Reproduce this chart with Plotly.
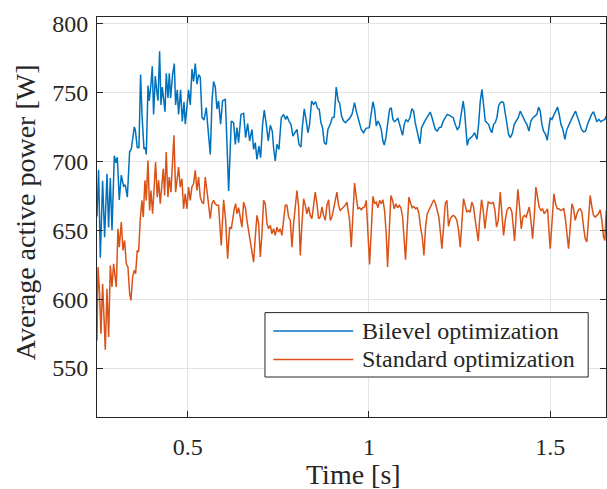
import plotly.graph_objects as go

# ---------------- data ----------------
t_bilevel = [
    0.2500, 0.2544, 0.2591, 0.2655, 0.2710, 0.2776, 0.2820, 0.2867, 0.2914, 0.2977,
    0.3024, 0.3060, 0.3115, 0.3170, 0.3234, 0.3280, 0.3336, 0.3400, 0.3446, 0.3529,
    0.3556, 0.3611, 0.3658, 0.3702, 0.3741, 0.3796, 0.3832, 0.3860, 0.3907, 0.3942,
    0.3989, 0.4025, 0.4061, 0.4108, 0.4144, 0.4182, 0.4227, 0.4265, 0.4301, 0.4337,
    0.4376, 0.4411, 0.4458, 0.4494, 0.4530, 0.4585, 0.4632, 0.4668, 0.4715, 0.4750,
    0.4806, 0.4853, 0.4900, 0.4935, 0.4982, 0.5026, 0.5073, 0.5120, 0.5164, 0.5211,
    0.5258, 0.5302, 0.5349, 0.5396, 0.5451, 0.5515, 0.5561, 0.5625, 0.5672, 0.5716,
    0.5763, 0.5809, 0.5854, 0.5909, 0.5964, 0.6039,
    0.6066, 0.6131, 0.6204, 0.6269, 0.6315, 0.6361, 0.6406, 0.6471, 0.6544, 0.6599,
    0.6655, 0.6710, 0.6774, 0.6820, 0.6866, 0.6912, 0.6967, 0.7013, 0.7068, 0.7114,
    0.7169, 0.7224, 0.7280, 0.7335, 0.7371, 0.7417, 0.7463, 0.7518, 0.7583, 0.7647,
    0.7702, 0.7739, 0.7794, 0.7849, 0.7904, 0.7960, 0.8015, 0.8070, 0.8125, 0.8162,
    0.8217, 0.8272, 0.8318, 0.8364, 0.8419, 0.8474, 0.8529, 0.8584, 0.8630, 0.8676,
    0.8722, 0.8768, 0.8823, 0.8869, 0.8934, 0.8989, 0.9044, 0.9099, 0.9154, 0.9191,
    0.9246, 0.9301, 0.9356, 0.9412, 0.9467,
    0.9532, 0.9605, 0.9651, 0.9697, 0.9734, 0.9789, 0.9853, 0.9918, 1.0010, 1.0065,
    1.0111, 1.0157, 1.0203, 1.0249, 1.0295, 1.0341, 1.0386, 1.0423, 1.0469, 1.0515,
    1.0570, 1.0616, 1.0662, 1.0708, 1.0754, 1.0800, 1.0846, 1.0892, 1.0929, 1.0975,
    1.1021, 1.1076, 1.1131, 1.1186, 1.1232, 1.1278, 1.1324, 1.1370, 1.1407, 1.1452,
    1.1508, 1.1554, 1.1600, 1.1646, 1.1691, 1.1737, 1.1783, 1.1829, 1.1884, 1.1940,
    1.1995, 1.2050, 1.2105, 1.2160, 1.2215, 1.2270, 1.2326, 1.2381, 1.2436, 1.2491,
    1.2546, 1.2601, 1.2638, 1.2675, 1.2712, 1.2757, 1.2803, 1.2859, 1.2914,
    1.2980, 1.3026, 1.3072, 1.3118, 1.3164, 1.3210, 1.3256, 1.3301, 1.3347, 1.3393,
    1.3439, 1.3485, 1.3531, 1.3577, 1.3623, 1.3669, 1.3715, 1.3761, 1.3807, 1.3853,
    1.3899, 1.3954, 1.4009, 1.4064, 1.4119, 1.4175, 1.4220, 1.4266, 1.4312, 1.4358,
    1.4413, 1.4469, 1.4524, 1.4579, 1.4634, 1.4680, 1.4726, 1.4772, 1.4818, 1.4873,
    1.4919, 1.4965, 1.5002, 1.5048, 1.5094, 1.5149, 1.5204, 1.5250, 1.5296, 1.5351,
    1.5406, 1.5461, 1.5516, 1.5571, 1.5627, 1.5700, 1.5755, 1.5810, 1.5865, 1.5921,
    1.5976, 1.6031, 1.6086, 1.6141, 1.6196, 1.6242, 1.6288, 1.6343, 1.6398, 1.6454,
    1.6509, 1.6546,
]
p_bilevel = [
    660.0, 694.0, 630.0, 686.0, 645.0, 691.0, 652.0, 688.0, 650.0, 704.0,
    699.0, 703.0, 672.0, 690.0, 682.0, 683.0, 674.0, 707.0, 709.0, 725.0,
    723.0, 710.0, 710.0, 763.0, 734.0, 709.0, 710.0, 705.0, 755.0, 744.0,
    756.0, 769.0, 734.0, 762.0, 752.0, 744.0, 780.0, 741.0, 754.0, 743.0,
    736.0, 764.0, 746.0, 764.0, 746.0, 763.0, 771.0, 741.0, 752.0, 734.0,
    752.0, 729.0, 743.0, 727.0, 743.0, 752.0, 741.0, 767.0, 758.0, 771.0,
    756.0, 763.0, 761.0, 732.0, 730.0, 739.0, 724.0, 705.0, 744.0, 758.0,
    754.0, 738.0, 744.0, 727.0, 744.0, 745.0,
    726.9, 678.5, 729.3, 728.1, 712.4, 724.5, 713.6, 734.1, 734.9, 717.2,
    727.4, 714.8, 723.2, 708.7, 713.6, 701.5, 711.1, 702.7, 726.9, 737.3,
    726.9, 714.8, 726.2, 722.0, 709.9, 700.3, 712.4, 708.7, 731.7, 734.1,
    730.5, 732.9, 729.3, 726.9, 718.4, 720.8, 723.2, 712.4, 710.4, 724.5,
    738.2, 729.3, 720.8, 726.9, 743.8, 741.4, 743.3, 738.5, 737.8, 728.1,
    724.5, 713.6, 712.4, 723.2, 726.9, 731.7, 732.2, 754.0, 743.8, 742.6,
    732.9, 729.3, 728.1, 729.8, 731.2,
    734.1, 742.6, 736.5, 731.7, 729.3, 723.2, 720.8, 724.0, 724.5, 734.1,
    743.3, 737.8, 725.7, 729.3, 726.9, 723.2, 714.8, 711.9, 717.2, 726.9,
    737.8, 739.0, 730.5, 728.8, 729.8, 731.2, 726.9, 722.0, 718.9, 726.9,
    730.5, 728.8, 731.7, 738.2, 736.5, 728.1, 722.5, 716.0, 712.8, 724.5,
    728.1, 729.8, 731.7, 734.1, 735.8, 732.2, 726.9, 723.2, 722.0, 724.5,
    724.9, 729.3, 731.7, 734.1, 733.6, 732.9, 731.7, 726.9, 723.2, 724.9,
    732.9, 743.8, 736.5, 719.6, 711.6, 716.0, 717.2, 718.4, 720.8,
    716.0, 726.9, 743.8, 752.3, 741.4, 729.3, 728.1, 726.9, 723.2, 720.8,
    726.9, 728.1, 731.7, 740.2, 742.6, 743.3, 742.6, 734.1, 724.5, 719.6,
    717.2, 720.1, 726.9, 729.8, 731.7, 736.5, 734.1, 730.5, 728.8, 726.9,
    722.0, 729.3, 731.7, 732.9, 734.1, 739.4, 736.5, 726.9, 722.0, 719.6,
    715.3, 724.5, 731.7, 730.5, 732.9, 736.5, 739.4, 734.1, 726.9, 723.2,
    716.0, 723.2, 726.9, 729.3, 732.9, 736.5, 731.7, 726.9, 723.2, 721.5,
    722.0, 726.9, 730.5, 734.1, 736.1, 732.9, 728.8, 730.5, 728.8, 729.8,
    730.5, 732.9,
]

t_standard = [
    0.2500, 0.2527, 0.2572, 0.2609, 0.2655, 0.2692, 0.2729, 0.2775, 0.2821, 0.2867,
    0.2913, 0.2958, 0.3004, 0.3032, 0.3078, 0.3115, 0.3170, 0.3216, 0.3262, 0.3308,
    0.3354, 0.3400, 0.3436, 0.3482, 0.3528, 0.3565, 0.3611, 0.3648, 0.3694, 0.3740,
    0.3776, 0.3822, 0.3859, 0.3905, 0.3951, 0.3988, 0.4034, 0.4070, 0.4116, 0.4162,
    0.4199, 0.4245, 0.4291, 0.4328, 0.4365, 0.4410, 0.4456, 0.4493, 0.4539, 0.4576,
    0.4622, 0.4668, 0.4705, 0.4751, 0.4796, 0.4842, 0.4888, 0.4934, 0.4980, 0.5026,
    0.5072, 0.5118, 0.5164, 0.5210, 0.5256, 0.5302, 0.5348, 0.5394, 0.5440, 0.5486,
    0.5532, 0.5578, 0.5624, 0.5670, 0.5715, 0.5761, 0.5807, 0.5853, 0.5899, 0.5927,
    0.5993, 0.6048, 0.6103, 0.6158, 0.6204, 0.6250, 0.6287, 0.6324, 0.6361, 0.6406,
    0.6452, 0.6498, 0.6544, 0.6599, 0.6636, 0.6682, 0.6728, 0.6774, 0.6820, 0.6866,
    0.6912, 0.6958, 0.7004, 0.7050, 0.7096, 0.7142, 0.7188, 0.7234, 0.7280, 0.7325,
    0.7371, 0.7417, 0.7463, 0.7509, 0.7555, 0.7601, 0.7647, 0.7693, 0.7739, 0.7785,
    0.7831, 0.7877, 0.7923, 0.7969, 0.8015, 0.8061, 0.8107, 0.8153, 0.8199, 0.8244,
    0.8290, 0.8336, 0.8382, 0.8428, 0.8474, 0.8520, 0.8566, 0.8612, 0.8658, 0.8704,
    0.8750, 0.8796, 0.8842, 0.8888, 0.8934, 0.8980, 0.9026, 0.9072, 0.9118, 0.9163,
    0.9209, 0.9255, 0.9301, 0.9347, 0.9393,
    0.9467, 0.9513, 0.9550, 0.9605, 0.9651, 0.9697, 0.9743, 0.9789, 0.9835, 0.9881,
    0.9927, 0.9973, 1.0019, 1.0065, 1.0111, 1.0157, 1.0203, 1.0249, 1.0295, 1.0341,
    1.0386, 1.0432, 1.0478, 1.0515, 1.0561, 1.0607, 1.0653, 1.0699, 1.0745, 1.0791,
    1.0837, 1.0883, 1.0929, 1.0975, 1.1011, 1.1057, 1.1103, 1.1149, 1.1195, 1.1241,
    1.1287, 1.1333, 1.1379, 1.1425, 1.1471, 1.1517, 1.1563, 1.1609, 1.1655, 1.1701,
    1.1747, 1.1793, 1.1838, 1.1884, 1.1930, 1.1976, 1.2013, 1.2059, 1.2105, 1.2151,
    1.2197, 1.2243, 1.2289, 1.2335, 1.2381, 1.2427, 1.2473, 1.2519, 1.2565, 1.2610,
    1.2656, 1.2702, 1.2748, 1.2794, 1.2840, 1.2886,
    1.2934, 1.2980, 1.3017, 1.3053, 1.3108, 1.3154, 1.3200, 1.3246, 1.3292, 1.3338,
    1.3384, 1.3430, 1.3476, 1.3522, 1.3568, 1.3623, 1.3669, 1.3715, 1.3761, 1.3807,
    1.3853, 1.3899, 1.3945, 1.3991, 1.4018, 1.4064, 1.4110, 1.4156, 1.4202, 1.4248,
    1.4294, 1.4340, 1.4386, 1.4423, 1.4469, 1.4515, 1.4560, 1.4606, 1.4652, 1.4698,
    1.4744, 1.4790, 1.4836, 1.4882, 1.4928, 1.4965, 1.5002, 1.5048, 1.5103, 1.5149,
    1.5195, 1.5241, 1.5287, 1.5332, 1.5378, 1.5424, 1.5470, 1.5507, 1.5553, 1.5599,
    1.5645, 1.5691, 1.5737, 1.5783, 1.5829, 1.5875, 1.5921, 1.5967, 1.6013, 1.6058,
    1.6104, 1.6150, 1.6196, 1.6242, 1.6288, 1.6334, 1.6380, 1.6426, 1.6472, 1.6509,
    1.6546,
]
p_standard = [
    570.0, 623.3, 604.0, 574.9, 611.2, 584.6, 563.3, 607.6, 572.5, 624.5,
    608.8, 625.7, 611.2, 608.8, 651.1, 637.8, 656.0, 635.4, 642.6, 625.7,
    623.3, 604.0, 599.1, 616.1, 620.9, 618.5, 635.4, 634.2, 658.4, 671.7,
    659.6, 686.2, 671.7, 700.7, 664.4, 678.9, 662.0, 683.8, 699.5, 674.1,
    686.2, 669.3, 681.4, 694.7, 675.3, 706.8, 674.1, 688.6, 677.7, 695.9,
    718.9, 677.7, 686.2, 695.9, 681.4, 687.4, 665.6, 676.5, 665.6, 681.4,
    671.7, 681.4, 683.8, 693.5, 678.9, 688.6, 674.1, 670.5, 669.3, 688.6,
    678.9, 670.5, 658.4, 669.3, 671.7, 669.3, 668.1, 668.1, 652.3, 639.0,
    672.2, 657.2, 629.4, 652.3, 651.1, 659.6, 665.6, 669.3, 662.0, 666.4,
    658.4, 652.3, 670.5, 665.6, 657.2, 649.9, 640.2, 633.0, 626.9, 645.1,
    660.8, 654.8, 630.6, 647.5, 671.7, 669.3, 654.8, 651.1, 653.6, 647.5,
    651.1, 646.3, 652.3, 648.7, 651.1, 646.3, 657.2, 668.1, 668.1, 659.6,
    657.2, 637.8, 654.8, 666.9, 678.9, 666.9, 631.8, 654.8, 672.9, 668.1,
    662.0, 666.9, 660.8, 658.4, 666.9, 677.7, 669.3, 658.4, 659.6, 666.9,
    660.8, 657.2, 668.1, 672.2, 657.2, 659.6, 665.6, 671.7, 677.7, 668.1,
    664.4, 665.6, 666.9, 668.1, 670.5,
    657.2, 637.8, 659.6, 684.3, 674.1, 665.6, 666.4, 664.9, 666.4, 666.9,
    671.7, 649.9, 625.2, 649.9, 674.6, 669.3, 670.5, 666.4, 671.7, 669.3,
    672.2, 664.4, 647.5, 623.3, 654.8, 675.3, 671.7, 665.6, 669.3, 666.4,
    668.1, 666.4, 659.6, 645.1, 628.6, 652.3, 674.1, 669.8, 666.4, 667.3,
    665.6, 666.4, 662.0, 652.3, 645.1, 631.8, 652.3, 662.0, 664.4, 666.4,
    669.3, 672.2, 669.3, 664.4, 659.6, 647.5, 636.6, 652.3, 669.3, 671.7,
    652.8, 658.4, 660.1, 660.8, 659.6, 657.2, 649.9, 637.8, 657.2, 672.9,
    668.1, 663.2, 664.4, 663.2, 670.5, 666.9,
    657.2, 647.5, 642.2, 657.2, 672.2, 664.4, 651.1, 662.0, 670.5, 669.8,
    669.3, 670.5, 664.4, 652.3, 657.2, 677.7, 662.0, 646.3, 657.2, 664.4,
    666.4, 666.4, 663.2, 645.1, 642.2, 662.0, 679.7, 666.9, 651.1, 659.6,
    660.8, 659.6, 664.4, 666.9, 657.2, 643.9, 659.6, 681.4, 674.1, 666.9,
    664.4, 665.6, 662.0, 663.9, 665.6, 649.9, 636.6, 654.8, 676.5, 669.3,
    665.6, 665.6, 664.4, 664.9, 665.6, 657.2, 645.1, 636.6, 652.3, 669.3,
    665.6, 657.2, 662.0, 664.9, 665.6, 663.2, 652.3, 643.9, 641.5, 662.0,
    675.3, 666.9, 660.8, 659.6, 660.8, 662.0, 664.9, 657.2, 645.1, 642.7,
    664.4,
]

series_names = ["Bilevel optimization", "Standard optimization"]
x_ticks = [0.5, 1, 1.5]
x_tick_labels = ["0.5", "1", "1.5"]
y_ticks = [550, 600, 650, 700, 750, 800]
y_tick_labels = ["550", "600", "650", "700", "750", "800"]

# ---------------- styling ----------------
BLUE = "#0072BD"
ORANGE = "#D95319"
AX = "#262626"
GRID = "#e3e3e3"
FONT = "'Liberation Serif', 'DejaVu Serif', serif"

fig = go.Figure()
fig.add_trace(go.Scatter(x=t_bilevel, y=p_bilevel, mode="lines", name=series_names[0],
                         line=dict(color=BLUE, width=1.5), showlegend=False))
fig.add_trace(go.Scatter(x=t_standard, y=p_standard, mode="lines", name=series_names[1],
                         line=dict(color=ORANGE, width=1.5), showlegend=False))

axis_common = dict(showline=True, linecolor=AX, linewidth=1, mirror="ticks",
                   ticks="inside", ticklen=6, tickcolor=AX, tickwidth=1,
                   showgrid=True, gridcolor=GRID, gridwidth=1, zeroline=False,
                   automargin=False,
                   tickfont=dict(family=FONT, size=24, color=AX))

fig.update_xaxes(range=[0.25, 1.654], tickvals=x_ticks, ticktext=x_tick_labels,
                 ticklabelstandoff=8, **axis_common)
fig.update_yaxes(range=[514.5, 804.8], tickvals=y_ticks, ticktext=y_tick_labels,
                 ticklabelstandoff=3, **axis_common)

# legend drawn by hand (MATLAB-style long sample lines)
shapes = [
    dict(type="rect", xref="paper", yref="paper", x0=0.330, x1=0.965, y0=0.100, y1=0.261,
         line=dict(color=AX, width=1), fillcolor="white", layer="above"),
    dict(type="line", xref="paper", yref="paper", x0=0.3464, x1=0.5035, y0=0.215, y1=0.215,
         line=dict(color=BLUE, width=1.5), layer="above"),
    dict(type="line", xref="paper", yref="paper", x0=0.3464, x1=0.5035, y0=0.144, y1=0.144,
         line=dict(color=ORANGE, width=1.5), layer="above"),
]
annotations = [
    dict(text=series_names[0], xref="paper", yref="paper", x=0.5167, y=0.215,
         xanchor="left", yanchor="middle", showarrow=False,
         font=dict(family=FONT, size=24, color=AX)),
    dict(text=series_names[1], xref="paper", yref="paper", x=0.5167, y=0.144,
         xanchor="left", yanchor="middle", showarrow=False,
         font=dict(family=FONT, size=24, color=AX)),
    dict(text="Time [s]", xref="paper", yref="paper", x=0.504, y=-0.143,
         xanchor="center", yanchor="middle", showarrow=False,
         font=dict(family=FONT, size=28, color=AX)),
    dict(text="Average active power [W]", xref="paper", yref="paper", x=-0.1415, y=0.512,
         xanchor="center", yanchor="middle", showarrow=False, textangle=-90,
         font=dict(family=FONT, size=28, color=AX)),
]

fig.update_layout(width=607, height=489, margin=dict(l=97, r=1, t=17, b=72),
                  paper_bgcolor="white", plot_bgcolor="white",
                  font=dict(family=FONT, color=AX),
                  shapes=shapes, annotations=annotations, showlegend=False)

fig.write_html("out.html",
               config={"displayModeBar": False},
               post_script="document.body.style.margin='0';"
                           "document.body.style.padding='0';"
                           "document.body.style.overflow='hidden';")
